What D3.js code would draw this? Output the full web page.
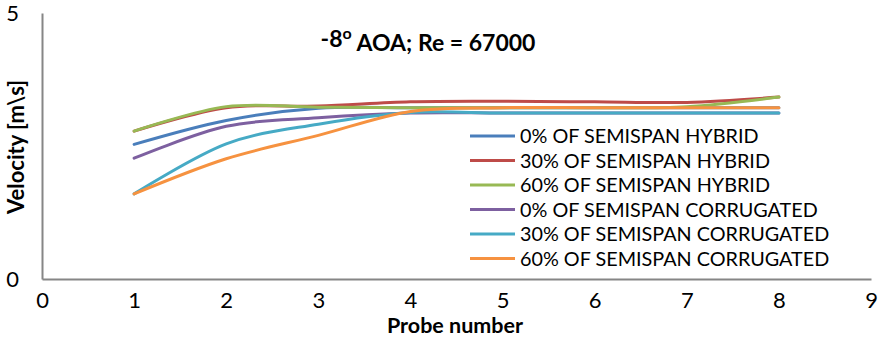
<!DOCTYPE html>
<html>
<head>
<meta charset="utf-8">
<script src="https://cdn.jsdelivr.net/npm/d3@7"></script>
<style>
  body { margin: 0; background: #fff; }
  text { font-family: Lato, "Open Sans", sans-serif; }
</style>
</head>
<body>
<div id="chart"></div>
<script>
var probes = [1, 2, 3, 4, 5, 6, 7, 8];
var seriesNames = [
    "0% OF SEMISPAN HYBRID",
    "30% OF SEMISPAN HYBRID",
    "60% OF SEMISPAN HYBRID",
    "0% OF SEMISPAN CORRUGATED",
    "30% OF SEMISPAN CORRUGATED",
    "60% OF SEMISPAN CORRUGATED"
];
var hybrid0 = [2.53, 2.98, 3.21, 3.22, 3.22, 3.22, 3.22, 3.22];
var hybrid30 = [2.78, 3.22, 3.25, 3.33, 3.34, 3.33, 3.32, 3.42];
var hybrid60 = [2.78, 3.24, 3.23, 3.22, 3.22, 3.22, 3.24, 3.42];
var corr0 = [2.27, 2.87, 3.03, 3.12, 3.12, 3.12, 3.12, 3.12];
var corr30 = [1.60, 2.54, 2.91, 3.13, 3.12, 3.12, 3.12, 3.12];
var corr60 = [1.60, 2.26, 2.70, 3.15, 3.22, 3.22, 3.22, 3.22];
var xTicks = [0, 1, 2, 3, 4, 5, 6, 7, 8, 9];
var yTicks = [0, 5];

var colors = ["#4A7EBB", "#BE4B48", "#98B954", "#7D60A0", "#46AAC5", "#F69240"];
var values = [hybrid0, hybrid30, hybrid60, corr0, corr30, corr60];

var w = 880, h = 341;
var margin = { top: 13, right: 9, bottom: 62, left: 42 };
var width = w - margin.left - margin.right,
    height = h - margin.top - margin.bottom;

var svg = d3.select("#chart").append("svg")
    .attr("width", w)
    .attr("height", h)
    .append("g")
    .attr("transform", "translate(" + margin.left + "," + margin.top + ")");

var x = d3.scaleLinear().domain([0, 9]).range([0, width]);
var y = d3.scaleLinear().domain([0, 5]).range([height, 0]);

// axes
var yAxis = svg.append("g")
    .call(d3.axisLeft(y).tickValues(yTicks).tickFormat(d3.format("d")).tickSize(0).tickPadding(23));
var xAxis = svg.append("g")
    .attr("transform", "translate(0," + height + ")")
    .call(d3.axisBottom(x).tickValues(xTicks).tickFormat(d3.format("d")).tickSize(0).tickPadding(13));

[xAxis, yAxis].forEach(function(a) {
    a.select(".domain").attr("stroke", "#868686").attr("stroke-width", 2);
    a.selectAll("text")
        .attr("font-family", "Lato, sans-serif")
        .attr("font-size", "22px")
        .attr("fill", "#000");
});

// lines
var line = d3.line()
    .x(function(d, i) { return x(probes[i]); })
    .y(function(d) { return y(d); })
    .curve(d3.curveCardinal.tension(0));

svg.selectAll(".series")
    .data(values)
    .enter().append("path")
    .attr("class", "series")
    .attr("d", line)
    .attr("fill", "none")
    .attr("stroke", function(d, i) { return colors[i]; })
    .attr("stroke-width", 3)
    .attr("stroke-linecap", "round");

// legend
var legend = svg.append("g").attr("transform", "translate(428,123)");
var rows = legend.selectAll("g")
    .data(seriesNames)
    .enter().append("g")
    .attr("transform", function(d, i) { return "translate(0," + (i * 24.5) + ")"; });
rows.append("line")
    .attr("x1", 0).attr("x2", 45)
    .attr("stroke", function(d, i) { return colors[i]; })
    .attr("stroke-width", 3);
rows.append("text")
    .attr("x", 50)
    .attr("dy", "0.36em")
    .attr("font-size", "19.8px")
    .attr("fill", "#000")
    .text(function(d) { return d; });

// title
var title = svg.append("text")
    .attr("x", 428 - margin.left)
    .attr("y", 47 - margin.top)
    .attr("text-anchor", "middle")
    .attr("font-size", "23px")
    .attr("font-weight", "bold");
title.append("tspan").text("-8");
title.append("tspan").attr("dy", "-0.5em").attr("font-size", "16px").text("o");
title.append("tspan").attr("dy", "0.5em").text(" AOA; Re = 67000");

// axis titles
svg.append("text")
    .attr("x", 455 - margin.left)
    .attr("y", 333 - margin.top)
    .attr("text-anchor", "middle")
    .attr("font-size", "21.5px")
    .attr("font-weight", "bold")
    .text("Probe number");

svg.append("text")
    .attr("transform", "translate(" + (24 - margin.left) + "," + (147 - margin.top) + ") rotate(-90)")
    .attr("text-anchor", "middle")
    .attr("font-size", "22px")
    .attr("font-weight", "bold")
    .text("Velocity [m\\s]");
</script>
</body>
</html>
